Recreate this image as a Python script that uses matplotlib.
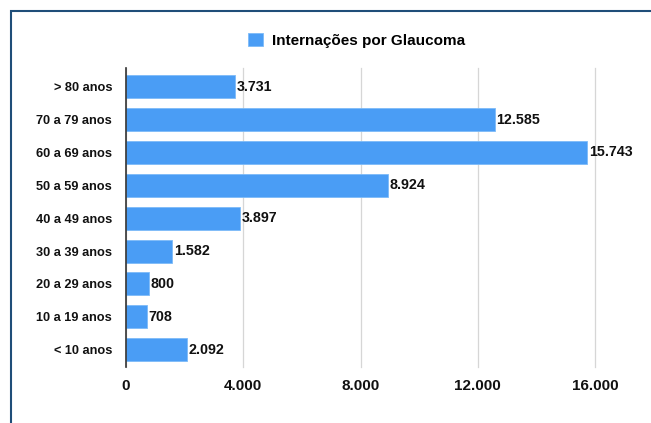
import matplotlib
matplotlib.use("Agg")
import matplotlib.pyplot as plt
from matplotlib.patches import Rectangle

plt.rcParams["font.family"] = ["Liberation Sans", "DejaVu Sans"]

# data, bottom to top as drawn
categories = ["< 10 anos", "10 a 19 anos", "20 a 29 anos", "30 a 39 anos",
              "40 a 49 anos", "50 a 59 anos", "60 a 69 anos", "70 a 79 anos",
              "> 80 anos"]
values = [2092, 708, 800, 1582, 3897, 8924, 15743, 12585, 3731]
xticks = [0, 4000, 8000, 12000, 16000]
series_name = "Internações por Glaucoma"

BAR = "#4A9DF5"


def fmt(v):
    return f"{v:,}".replace(",", ".")


fig = plt.figure(figsize=(6.51, 4.23), dpi=100)
ax = fig.add_axes([126 / 651, 0.1324, 469 / 651, 0.7068])

bars = ax.barh(range(len(categories)), values, height=0.7, color=BAR,
               edgecolor="#7DBBF8", linewidth=0.6, zorder=3,
               label=series_name)

for i, v in enumerate(values):
    ax.text(v + 50, i, fmt(v), va="center", ha="left", fontsize=10.3,
            fontweight="bold", color="#111111", zorder=4)

ax.set_xlim(0, 16000)
ax.set_ylim(-0.53, 8.57)
ax.set_xticks(xticks)
ax.set_xticklabels([fmt(t) for t in xticks], fontsize=11, fontweight="bold")
ax.set_yticks(range(len(categories)))
ax.set_yticklabels(categories, fontsize=9.2, fontweight="bold")
ax.tick_params(axis="both", length=0, colors="#111111")
ax.tick_params(axis="y", pad=10)
ax.tick_params(axis="x", pad=9)

ax.grid(axis="x", color="#d6d6d6", linewidth=0.9, zorder=0)
for line in ax.get_xgridlines():
    line.set_clip_on(False)
for s in ["top", "right", "bottom"]:
    ax.spines[s].set_visible(False)
ax.spines["left"].set_color("#333333")
ax.spines["left"].set_linewidth(1.2)
ax.spines["left"].set_zorder(5)

fig.legend(handles=[bars], labels=[series_name], loc="center",
           bbox_to_anchor=(0.548, 0.905), frameon=False, handlelength=0.95,
           handleheight=0.95, handletextpad=0.6,
           prop={"size": 11, "weight": "bold"})

# frame around the picture
fig.patches.append(Rectangle((11 / 651, -0.01), 1.0, 1 - 11 / 423 + 0.01,
                             transform=fig.transFigure, fill=False,
                             edgecolor="#1F4E79", linewidth=1.5))

fig.savefig("out.png", dpi=100)
